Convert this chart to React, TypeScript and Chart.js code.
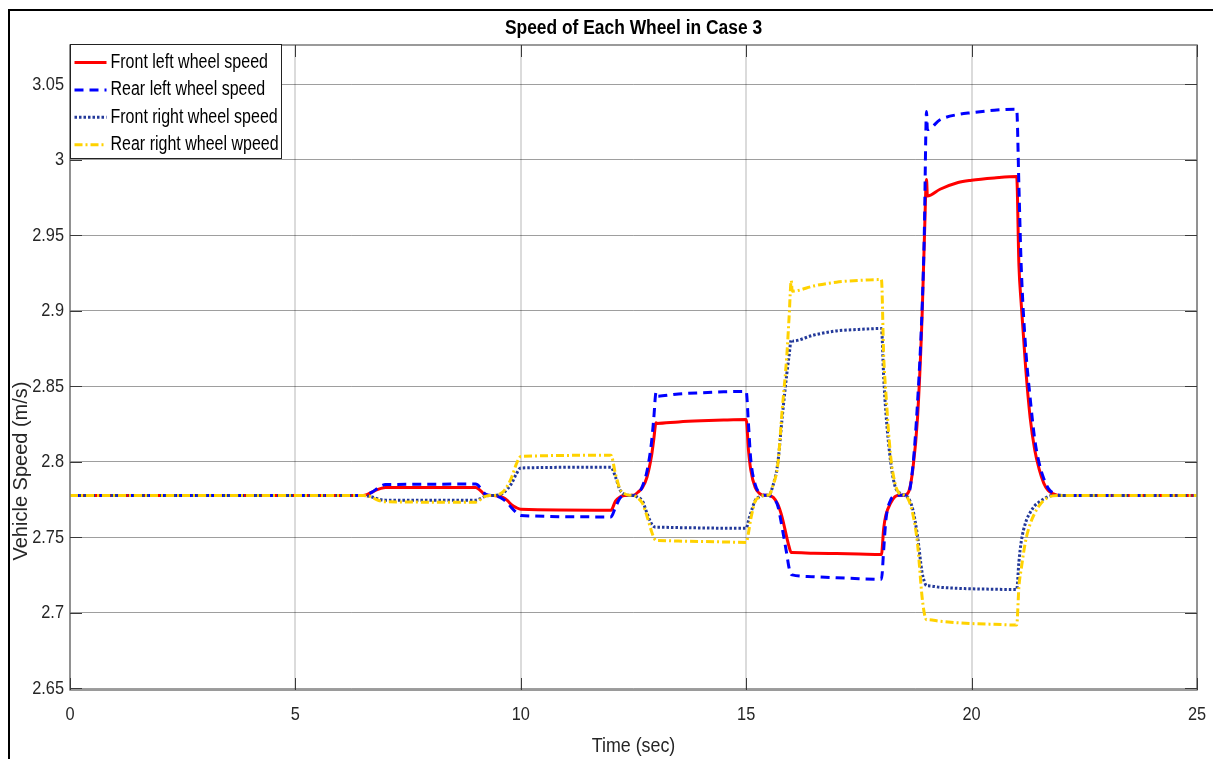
import React, { useEffect, useRef } from "react";
import { Chart, registerables } from "chart.js";

Chart.register(...registerables);

// ---------- data ----------
const timeSec = [
  0, 6.5, 6.6, 6.7, 6.8, 6.9, 7.0,
  9.0, 9.1, 9.2, 9.3, 9.4, 9.5, 9.6, 9.7, 9.8, 9.9, 10.0,
  12.0, 12.1, 12.2, 12.3, 12.4, 12.5, 12.6, 12.7, 12.8, 12.9,
  12.95, 13.0, 13.02, 13.5, 14.0, 14.5,
  15.0, 15.05, 15.1, 15.2, 15.3, 15.4, 15.5, 15.6, 15.7, 15.8, 15.9,
  15.95, 16.0, 16.02, 16.5, 17.0, 17.5,
  18.0, 18.05, 18.1, 18.2, 18.3, 18.4, 18.5, 18.6, 18.7, 18.8, 18.9,
  18.95, 19.0, 19.02, 19.3, 19.7, 20.0, 20.5,
  21.0, 21.05, 21.1, 21.2, 21.3, 21.4, 21.5, 21.6, 21.7, 21.8, 21.9,
  22.0, 25.0,
];

const frontLeft = [
  2.7778, 2.7778, 2.7785, 2.78, 2.7815, 2.7825, 2.783,
  2.783, 2.7812, 2.7783, 2.7778, 2.7777, 2.7773, 2.7765, 2.7745, 2.7715, 2.7697, 2.7686,
  2.768, 2.774, 2.7768, 2.7777, 2.7778, 2.7779, 2.78, 2.783, 2.79, 2.804,
  2.815, 2.826, 2.8255, 2.8265, 2.8272, 2.8277,
  2.828, 2.808, 2.795, 2.783, 2.779, 2.7779, 2.7778, 2.7765, 2.772, 2.763, 2.75,
  2.744, 2.74, 2.74, 2.7396, 2.7393, 2.739,
  2.7387, 2.756, 2.765, 2.7725, 2.777, 2.778, 2.778, 2.78, 2.796, 2.829, 2.895,
  2.945, 2.987, 2.976, 2.9805, 2.985, 2.9865, 2.988,
  2.989, 2.93, 2.905, 2.862, 2.829, 2.808, 2.795, 2.786, 2.781, 2.779, 2.778,
  2.7778, 2.7778,
];

const rearLeft = [
  2.7778, 2.7778, 2.7785, 2.78, 2.782, 2.784, 2.785,
  2.7853, 2.783, 2.779, 2.7779, 2.7777, 2.777, 2.7755, 2.773, 2.7695, 2.7665, 2.7645,
  2.7636, 2.77, 2.776, 2.7777, 2.7778, 2.7778, 2.779, 2.784, 2.794, 2.813,
  2.829, 2.846, 2.8435, 2.845, 2.8458, 2.8464,
  2.8467, 2.825, 2.802, 2.785, 2.7795, 2.778, 2.7778, 2.7758, 2.771, 2.756, 2.739,
  2.73, 2.7255, 2.7252, 2.724, 2.7233, 2.7227,
  2.7223, 2.742, 2.762, 2.7745, 2.7775, 2.778, 2.778, 2.779, 2.798, 2.839, 2.9,
  2.95, 3.032, 3.02, 3.0265, 3.03, 3.0312, 3.0328,
  3.0335, 2.982, 2.93, 2.875, 2.842, 2.815, 2.799, 2.789, 2.7825, 2.7795, 2.7782,
  2.7778, 2.7778,
];

const frontRight = [
  2.7778, 2.7778, 2.7774, 2.7768, 2.7758, 2.775, 2.7747,
  2.7747, 2.7757, 2.7772, 2.7777, 2.7778, 2.7782, 2.7792, 2.782, 2.786, 2.792, 2.796,
  2.7965, 2.79, 2.7815, 2.7785, 2.7779, 2.7778, 2.7765, 2.774, 2.766, 2.759,
  2.7572, 2.7568, 2.7568, 2.7565, 2.7563, 2.7561,
  2.756, 2.761, 2.766, 2.7745, 2.777, 2.7778, 2.778, 2.785, 2.799, 2.83, 2.858,
  2.87, 2.881, 2.88, 2.884, 2.8867, 2.8877,
  2.8883, 2.856, 2.832, 2.801, 2.784, 2.7795, 2.778, 2.776, 2.768, 2.751, 2.727,
  2.721, 2.718, 2.718, 2.717, 2.7163, 2.716, 2.7157,
  2.7155, 2.734, 2.747, 2.76, 2.7665, 2.771, 2.7735, 2.7755, 2.777, 2.7778, 2.7778,
  2.7778, 2.7778,
];

const rearRight = [
  2.7778, 2.7778, 2.7774, 2.7766, 2.775, 2.774, 2.7736,
  2.7733, 2.775, 2.777, 2.7777, 2.7778, 2.7783, 2.78, 2.784, 2.79, 2.7985, 2.8036,
  2.8044, 2.792, 2.782, 2.779, 2.7779, 2.7778, 2.776, 2.7725, 2.764, 2.754,
  2.75, 2.748, 2.748, 2.7476, 2.7473, 2.747,
  2.7467, 2.753, 2.762, 2.774, 2.7765, 2.7778, 2.778, 2.785, 2.798, 2.835, 2.87,
  2.895, 2.92, 2.913, 2.9165, 2.919, 2.9202,
  2.9207, 2.87, 2.845, 2.805, 2.786, 2.779, 2.778, 2.775, 2.765, 2.746, 2.711,
  2.7, 2.6955, 2.6955, 2.6945, 2.6935, 2.693, 2.6925,
  2.692, 2.7175, 2.729, 2.748, 2.759, 2.766, 2.771, 2.7745, 2.7765, 2.7775, 2.7778,
  2.7778, 2.7778,
];

const seriesLabels = [
  "Front left wheel speed",
  "Rear left wheel speed",
  "Front right wheel speed",
  "Rear right wheel wpeed",
];

const xTickValues = [0, 5, 10, 15, 20, 25];
const yTickValues = [2.65, 2.7, 2.75, 2.8, 2.85, 2.9, 2.95, 3.0, 3.05];

const chartTitle = "Speed of Each Wheel in Case 3";
const xAxisTitle = "Time (sec)";
const yAxisTitle = "Vehicle Speed (m/s)";

// ---------- styling ----------
const W = 1213;
const H = 759;
const SANS = '"Liberation Sans", Arial, Helvetica, sans-serif';
const TEXT = "#262626";

function fmtY(v: number) {
  return String(Number(v.toFixed(2)));
}

// draw horizontally condensed text (narrow face look)
function condensed(
  ctx: CanvasRenderingContext2D,
  text: string,
  x: number,
  y: number,
  font: string,
  sx: number,
  align: CanvasTextAlign,
  color: string
) {
  ctx.save();
  ctx.translate(x, y);
  ctx.scale(sx, 1);
  ctx.font = font;
  ctx.textAlign = align;
  ctx.textBaseline = "middle";
  ctx.fillStyle = color;
  ctx.fillText(text, 0, 0);
  ctx.restore();
}

const decorPlugin = {
  id: "decor",
  afterDraw(chart: any) {
    const { ctx, chartArea: a, scales } = chart;
    const xs = scales.x;
    const ys = scales.y;
    ctx.save();

    // axes box
    ctx.setLineDash([]);
    ctx.strokeStyle = "#7a7a7a";
    ctx.lineWidth = 1.5;
    ctx.strokeRect(a.left, a.top, a.right - a.left, a.bottom - a.top);

    // inward tick marks
    ctx.strokeStyle = "#3a3a3a";
    ctx.lineWidth = 1;
    const seg = (x1: number, y1: number, x2: number, y2: number) => {
      ctx.beginPath();
      ctx.moveTo(x1, y1);
      ctx.lineTo(x2, y2);
      ctx.stroke();
    };
    for (const v of xTickValues) {
      const px = Math.round(xs.getPixelForValue(v)) + 0.5;
      seg(px, a.bottom, px, a.bottom - 12);
      seg(px, a.top, px, a.top + 12);
    }
    for (const v of yTickValues) {
      const py = Math.round(ys.getPixelForValue(v)) + 0.5;
      seg(a.left, py, a.left + 12, py);
      seg(a.right, py, a.right - 12, py);
    }

    // tick labels
    for (const v of xTickValues) {
      condensed(ctx, String(v), xs.getPixelForValue(v), 715, `19px ${SANS}`, 0.86, "center", TEXT);
    }
    for (const v of yTickValues) {
      condensed(ctx, fmtY(v), a.left - 6, ys.getPixelForValue(v), `19px ${SANS}`, 0.86, "right", TEXT);
    }

    // title
    condensed(ctx, chartTitle, (a.left + a.right) / 2, 28, `bold 20px ${SANS}`, 0.87, "center", "#000");

    // x axis title
    condensed(ctx, xAxisTitle, (a.left + a.right) / 2, 746, `21px ${SANS}`, 0.85, "center", TEXT);

    // y axis title
    ctx.save();
    ctx.translate(21, 471);
    ctx.rotate(-Math.PI / 2);
    ctx.font = `20px ${SANS}`;
    ctx.textAlign = "center";
    ctx.textBaseline = "middle";
    ctx.fillStyle = TEXT;
    ctx.fillText(yAxisTitle, 0, 0);
    ctx.restore();

    // legend
    const lx = a.left + 0.5;
    const ly = a.top - 0.5;
    const lw = 211;
    const lh = 114;
    ctx.fillStyle = "#fff";
    ctx.fillRect(lx, ly, lw, lh);
    ctx.strokeStyle = "#222";
    ctx.lineWidth = 1;
    ctx.strokeRect(lx, ly, lw, lh);
    chart.data.datasets.forEach((ds: any, i: number) => {
      const cy = ly + 18 + i * 27.4;
      ctx.strokeStyle = ds.borderColor;
      ctx.lineWidth = ds.borderWidth;
      ctx.setLineDash(ds.borderDash || []);
      seg(lx + 4, cy, lx + 36, cy);
      ctx.setLineDash([]);
      condensed(ctx, ds.label, lx + 40, cy, `20px ${SANS}`, 0.8, "left", "#000");
    });

    ctx.restore();
  },
};

function toPoints(values: number[]) {
  return timeSec.map((t, i) => ({ x: t, y: values[i] }));
}

export default function App() {
  const canvasRef = useRef<HTMLCanvasElement | null>(null);

  useEffect(() => {
    const canvas = canvasRef.current;
    if (!canvas) return;
    const styles = [
      { color: "#ff0000", width: 3, dash: [] as number[], order: 4 },
      { color: "#0000ff", width: 3, dash: [9, 6], order: 3 },
      { color: "#23399a", width: 3, dash: [2.5, 2], order: 2 },
      { color: "#ffd200", width: 3, dash: [8, 3, 2, 3], order: 1 },
    ];
    const seriesValues = [frontLeft, rearLeft, frontRight, rearRight];

    const chart = new Chart(canvas, {
      type: "line",
      data: {
        datasets: seriesValues.map((vals, i) => ({
          label: seriesLabels[i],
          data: toPoints(vals),
          borderColor: styles[i].color,
          backgroundColor: styles[i].color,
          borderWidth: styles[i].width,
          borderDash: styles[i].dash,
          pointRadius: 0,
          fill: false,
          cubicInterpolationMode: "monotone" as const,
          order: styles[i].order,
        })),
      },
      options: {
        responsive: false,
        animation: false,
        devicePixelRatio: 1,
        layout: { padding: { top: 45, left: 0, right: 16, bottom: 0 } },
        plugins: {
          legend: { display: false },
          title: { display: false },
          tooltip: { enabled: false },
        },
        scales: {
          x: {
            type: "linear",
            min: 0,
            max: 25,
            afterBuildTicks: (scale: any) => {
              scale.ticks = xTickValues.map((v) => ({ value: v }));
            },
            afterFit: (scale: any) => {
              scale.height = 69;
            },
            ticks: { display: false },
            grid: { color: "rgba(0,0,0,0.14)", lineWidth: 2, drawTicks: false },
            border: { display: false },
          },
          y: {
            type: "linear",
            min: 2.649,
            max: 3.076,
            afterBuildTicks: (scale: any) => {
              scale.ticks = yTickValues.map((v) => ({ value: v }));
            },
            afterFit: (scale: any) => {
              scale.width = 70;
            },
            ticks: { display: false },
            grid: { color: "rgba(0,0,0,0.38)", lineWidth: 1, drawTicks: false },
            border: { display: false },
          },
        },
      },
      plugins: [decorPlugin],
    });

    return () => chart.destroy();
  }, []);

  return (
    <div>
      <div
        style={{
          position: "fixed",
          left: 8,
          top: 9,
          width: W,
          height: H,
          borderLeft: "2px solid #000",
          borderTop: "2px solid #000",
          boxSizing: "border-box",
        }}
      />
      <canvas
        ref={canvasRef}
        width={W}
        height={H}
        style={{ position: "fixed", left: 0, top: 0, width: W, height: H }}
      />
    </div>
  );
}
